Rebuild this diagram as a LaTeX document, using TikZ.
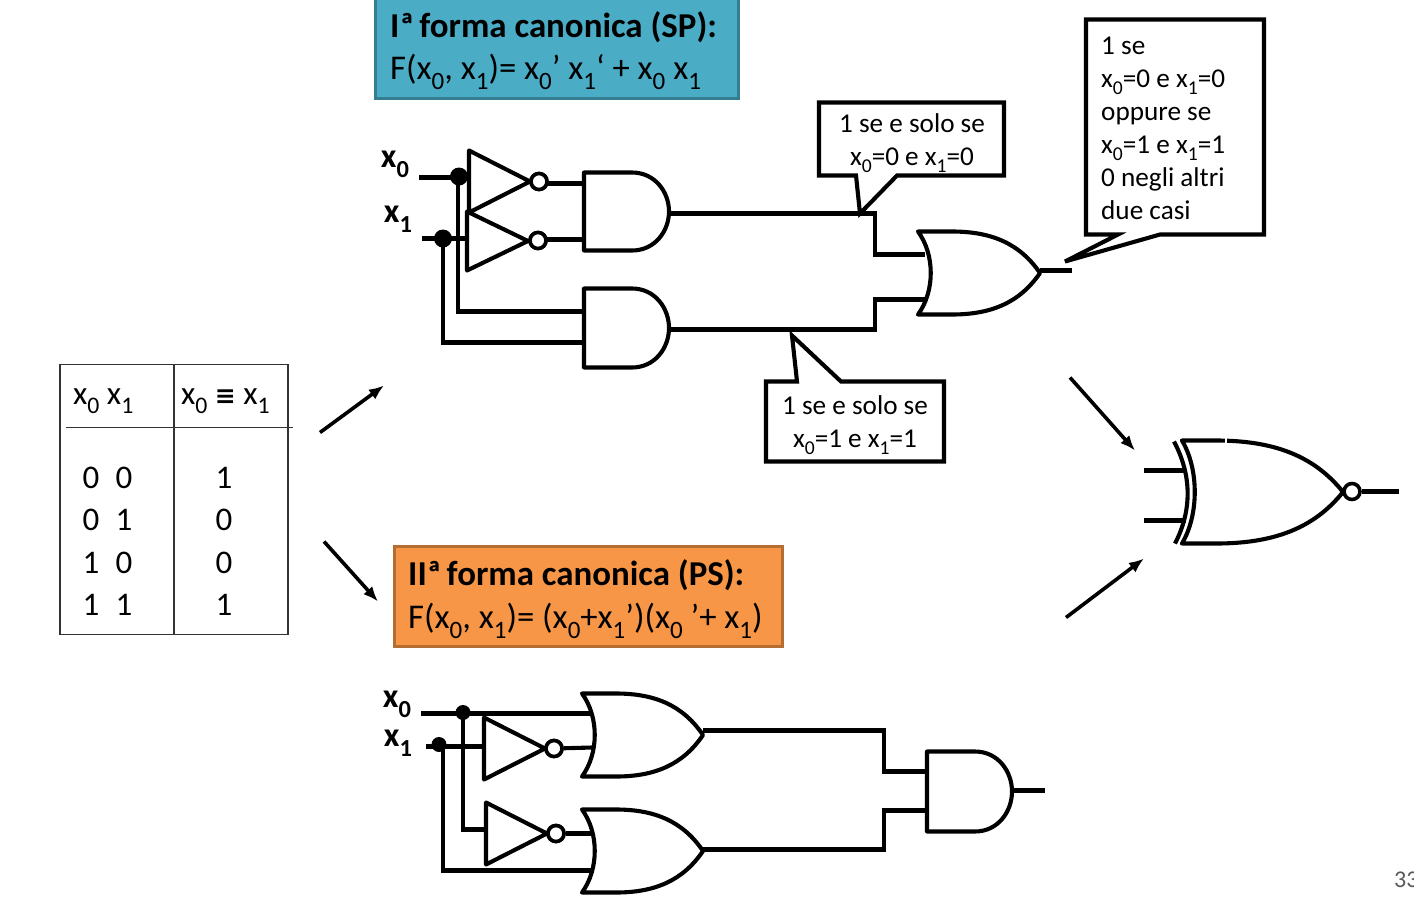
\documentclass[tikz,border=0pt]{standalone}
\usepackage{fontspec}
\setmainfont{Carlito}
\newfontfamily\symfont{DejaVu Sans}
\newcommand{\sbs}[1]{\raisebox{-0.28em}{\fontsize{0.72em}{1em}\selectfont #1}}
\newcommand{\xz}{x\sbs{0}}
\newcommand{\xu}{x\sbs{1}}
\definecolor{teal1}{HTML}{4BACC6}
\definecolor{teal2}{HTML}{357D91}
\definecolor{orange1}{HTML}{F79646}
\definecolor{orange2}{HTML}{B66D31}
\definecolor{tabline}{HTML}{333333}
\usetikzlibrary{arrows.meta}
\tikzset{
  x=1pt,y=-1pt,
  wire/.style={draw=black,line width=4.1pt,line join=miter,line cap=butt},
  gate/.style={draw=black,line width=4.1pt,fill=white,line join=round},
  bubble/.style={circle,draw=black,line width=3.6pt,fill=white,minimum size=16pt,inner sep=0pt},
  dotnode/.style={circle,fill=black,minimum size=18pt,inner sep=0pt},
  smalldot/.style={circle,fill=black,minimum size=15pt,inner sep=0pt},
  callout/.style={draw=black,line width=4.1pt,fill=white,line join=miter},
  arrowline/.style={draw=black,line width=3.6pt,-{Latex[length=15pt,width=12pt]}},
  inlabel/.style={inner sep=0pt,font=\fontsize{34}{34}\selectfont\bfseries},
  calltext/.style={inner sep=0pt,font=\fontsize{27.2}{33}\selectfont},
  boxtext/.style={inner sep=0pt,anchor=base west,font=\fontsize{34.7}{34.7}\selectfont},
  boxhead/.style={boxtext,font=\fontsize{34.9}{34.9}\selectfont\bfseries},
  tabtext/.style={inner sep=0pt,font=\fontsize{33}{33}\selectfont},
  tabrule/.style={draw=tabline,line width=1.8pt},
}
% AND: left x, top y, bottom y
\newcommand{\andgate}[3]{%
  \draw[gate] (#1,#2) -- (#1+48,#2) .. controls (#1+71,#2) and (#1+85,{#2+(#3-#2)*0.25}) .. (#1+85,{(#2+#3)/2})
   .. controls (#1+85,{#3-(#3-#2)*0.25}) and (#1+71,#3) .. (#1+48,#3) -- (#1,#3) -- cycle;}
% OR: left x, top y, bottom y, tip x
\newcommand{\orgate}[4]{%
  \draw[gate] (#1,#2) -- (#1+34,#2) .. controls ({#1+34+(#4-#1-34)*0.45},#2) and ({#4-(#4-#1-34)*0.23},{#2+(#3-#2)*0.145}) .. (#4,{(#2+#3)/2})
   .. controls ({#4-(#4-#1-34)*0.23},{#3-(#3-#2)*0.145}) and ({#1+34+(#4-#1-34)*0.45},#3) .. (#1+34,#3) -- (#1,#3)
   .. controls (#1+17,{#3-(#3-#2)*0.28}) and (#1+17,{#2+(#3-#2)*0.28}) .. (#1,#2) -- cycle;}
\newcommand{\invgate}[4]{\draw[gate] (#1,#2) -- (#3,#4) -- (#1,{2*#4-#2}) -- cycle;}
\begin{document}
\begin{tikzpicture}
\useasboundingbox (0,-0.5) rectangle (1414,905.5);
% coloured boxes
\draw[fill=teal1,draw=teal2,line width=3pt] (375,-4) rectangle (738,97.5);
\node[boxhead] (t1a) at (390,37) {Iª\kern-2.5pt{} forma canonica (SP):};
\node[boxtext] (t1b) at (390,79) {F(\xz, \xu)= \xz’ \xu‘ + \xz{} \xu};
\draw[fill=orange1,draw=orange2,line width=3pt] (394,545.5) rectangle (782,645.5);
\node[boxhead] (t2a) at (408,585) {IIª\kern-2.5pt{} forma canonica (PS):};
\node[boxtext] (t2b) at (408,628) {F(\xz, \xu)= (\xz+\xu’)(\xz{} ’+ \xu)};
% table
\draw[tabrule] (60,364) rectangle (288,634);
\draw[tabrule] (174,364) -- (174,634);
\draw[tabrule] (66,427) -- (293,427);
\node[tabtext,anchor=base west] (h1) at (73,404) {\xz{} \xu};
\node[tabtext,anchor=base west] (h2) at (181,404) {\xz{} {\symfont\bfseries\fontsize{25}{25}\selectfont ≡} \xu};
\foreach \yy/\aa/\bb/\cc [count=\i] in {488/0/0/1,530/0/1/0,573/1/0/0,615/1/1/1}{
  \node[tabtext,anchor=base] (ra\i) at (91,\yy) {\aa};
  \node[tabtext,anchor=base] (rb\i) at (124,\yy) {\bb};
  \node[tabtext,anchor=base] (rc\i) at (224,\yy) {\cc};
}
% arrows
\coordinate (a1s) at (320,432); \coordinate (a1e) at (384,385);
\coordinate (a2s) at (324,541); \coordinate (a2e) at (378,601);
\coordinate (a3s) at (1070,377); \coordinate (a3e) at (1135,450);
\coordinate (a4s) at (1066,617); \coordinate (a4e) at (1144,558);
\draw[arrowline] (a1s) -- (a1e);
\draw[arrowline] (a2s) -- (a2e);
\draw[arrowline] (a3s) -- (a3e);
\draw[arrowline] (a4s) -- (a4e);
% ===== SP circuit =====
\node[inlabel] (lx0) at (395,164) {\xz};
\node[inlabel] (lx1) at (398,219) {\xu};
\coordinate (x0in) at (419,177); \coordinate (x1in) at (422,238);
\node[dotnode] (j0) at (459,176) {};
\node[dotnode] (j1) at (443,238) {};
\coordinate (i1in) at (468,177); \coordinate (i2in) at (467,238);
\draw[wire] (x0in) -- (i1in);
\draw[wire] (x1in) -- (i2in);
\coordinate (a2a) at (584,311); \coordinate (a2b) at (584,342);
\draw[wire] (458,176) |- (a2a);
\draw[wire] (443,238) |- (a2b);
\coordinate (a1a) at (584,183); \coordinate (a1b) at (584,239);
\node[bubble] (b1) at (539,181) {};
\node[bubble] (b2) at (538,240) {};
\draw[wire] (545,183) -- (a1a);
\draw[wire] (544,239) -- (a1b);
\invgate{469}{150}{530}{181}
\invgate{467}{211}{528}{240.5}
\node[bubble] at (b1.center) {};
\node[bubble] at (b2.center) {};
\andgate{584}{172}{250}
\andgate{584}{288}{367}
\coordinate (o1a) at (925,254); \coordinate (o1b) at (925,299);
\draw[wire] (669,213) -- (875,213) -- (875,254) -- (o1a);
\draw[wire] (669,329) -- (875,329) -- (875,299) -- (o1b);
\orgate{918}{231}{314}{1040}
\coordinate (o1out) at (1072,270);
\draw[wire] (1040,270) -- (o1out);
% callouts
\draw[callout] (819,102) -- (1004,102) -- (1004,175) -- (897,175) -- (860,213) -- (856,175) -- (819,175) -- cycle;
\node[calltext,align=center] (c1) at (912,142.5) {1 se e solo se\\\xz=0 e \xu=0};
\draw[callout] (766,381) -- (797,381) -- (792,335) -- (841,381) -- (944,381) -- (944,461) -- (766,461) -- cycle;
\node[calltext,align=center] (c2) at (855,424.5) {1 se e solo se\\\xz=1 e \xu=1};
\draw[callout] (1086,19) -- (1264,19) -- (1264,234) -- (1160,234) -- (1065,261) -- (1118,234) -- (1086,234) -- cycle;
\node[calltext,align=left,anchor=north west] (c3) at (1101,36) {1 se\\\xz=0 e \xu=0\\oppure se\\\xz=1 e \xu=1\\0 negli altri\\due casi};
% ===== XNOR =====
\coordinate (xa) at (1144,470); \coordinate (xb) at (1144,520);
\draw[wire] (xa) -- (1186,470);
\draw[wire] (xb) -- (1186,520);
\orgate{1182}{440}{543}{1343}
\draw[line width=4.1pt] (1174,441) .. controls (1192,475) and (1192,510) .. (1175,543);
\node[bubble] (bx) at (1352,491) {};
\coordinate (xout) at (1399,491);
\draw[wire] (bx) -- (xout);
\draw[white,line width=2pt] (1226,437) -- (1226,443);
% ===== PS circuit =====
\node[inlabel] (ly0) at (397,704) {\xz};
\node[inlabel] (ly1) at (398,743) {\xu};
\coordinate (y0in) at (421,713); \coordinate (y1in) at (426,746);
\node[smalldot] (k0) at (463,712) {};
\node[smalldot] (k1) at (439,744) {};
\coordinate (o3a) at (592,713); \coordinate (i3in) at (484,746);
\coordinate (i4in) at (487,829); \coordinate (o4b) at (592,870);
\draw[wire] (k0.center) |- (i4in);
\draw[wire] (443,745) -- (443,872);
\orgate{582}{693}{776}{703}
\orgate{582}{809}{892}{703}
\draw[wire] (y0in) -- (o3a);
\draw[wire] (y1in) -- (i3in);
\draw[wire] (443,870) -- (o4b);
\coordinate (o3b) at (592,747); \coordinate (o4a) at (592,833);
\node[bubble] (b3) at (554,748) {};
\node[bubble] (b4) at (556,833) {};
\draw[wire] (b3) -- (o3b);
\draw[wire] (b4) -- (o4a);
\invgate{484}{717}{545}{748}
\invgate{486}{802}{547}{833}
\node[bubble] at (b3.center) {};
\node[bubble] at (b4.center) {};
\coordinate (a3a) at (927,771); \coordinate (a3b) at (927,810);
\draw[wire] (703,730) -- (884,730) -- (884,771) -- (a3a);
\draw[wire] (703,849) -- (884,849) -- (884,810) -- (a3b);
\andgate{927}{751}{831}
\coordinate (a3out) at (1045,790);
\draw[wire] (1012,790) -- (a3out);
% page number
\node[inner sep=0pt,anchor=base west,text=black!65,font=\fontsize{24}{24}\selectfont] (pg) at (1394,887) {33};
\end{tikzpicture}
\end{document}
